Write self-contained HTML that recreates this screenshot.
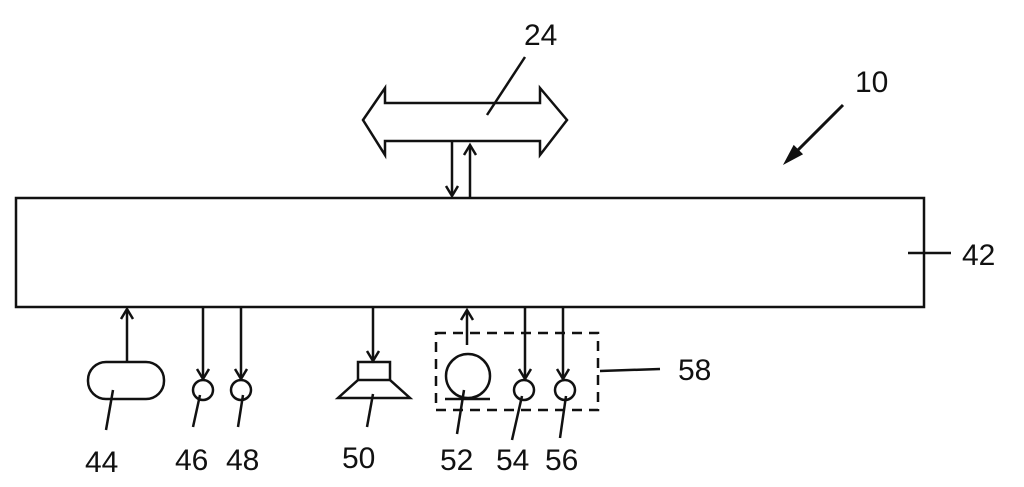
<!DOCTYPE html>
<html><head><style>
html,body{margin:0;padding:0;background:#fff;width:1024px;height:487px;overflow:hidden}
text{font-family:"Liberation Sans",sans-serif;font-size:30px;fill:#111}
</style></head><body>
<svg width="1024" height="487" viewBox="0 0 1024 487" xmlns="http://www.w3.org/2000/svg" fill="none" stroke="#111" stroke-width="2.5">
<rect x="16" y="198" width="908" height="109"/>
<path d="M363 120 L385 88 L385 103 L540 103 L540 88 L567 120 L540 155 L540 141 L385 141 L385 155 Z"/>
<line x1="525" y1="57" x2="487" y2="115"/>
<line x1="452" y1="141" x2="452" y2="196"/><path d="M446 186 L452 196 L458 186"/>
<line x1="470" y1="198" x2="470" y2="145"/><path d="M464 155 L470 145 L476 155"/>
<line x1="843" y1="105" x2="788" y2="160" stroke-width="3"/><path d="M786 162 L794 147 L801 154 Z" fill="#111"/>
<line x1="908" y1="253" x2="951" y2="253"/>
<rect x="88" y="362" width="76" height="37" rx="18"/>
<line x1="127" y1="362" x2="127" y2="309"/><path d="M121 319 L127 309 L133 319"/>
<line x1="113" y1="390" x2="106" y2="430"/>
<circle cx="203" cy="390" r="10"/><circle cx="241" cy="390" r="10"/>
<line x1="203" y1="307" x2="203" y2="379"/><path d="M197 369 L203 379 L209 369"/>
<line x1="241" y1="307" x2="241" y2="379"/><path d="M235 369 L241 379 L247 369"/>
<line x1="200" y1="395" x2="193" y2="427"/><line x1="243" y1="395" x2="238" y2="427"/>
<rect x="358" y="362" width="32" height="18"/>
<path d="M358 380 L338 398 L410 398 L390 380"/>
<line x1="373" y1="307" x2="373" y2="361"/><path d="M367 351 L373 361 L379 351"/>
<line x1="373" y1="394" x2="367" y2="427"/>
<rect x="436" y="333" width="162" height="77" stroke-dasharray="10,7"/>
<circle cx="468" cy="376" r="22"/><line x1="445" y1="399" x2="490" y2="399"/>
<line x1="467" y1="345" x2="467" y2="310"/><path d="M461 320 L467 310 L473 320"/>
<line x1="464" y1="390" x2="457" y2="434"/>
<circle cx="524" cy="390" r="10"/><circle cx="565" cy="390" r="10"/>
<line x1="525" y1="307" x2="525" y2="379"/><path d="M519 369 L525 379 L531 369"/>
<line x1="563" y1="307" x2="563" y2="379"/><path d="M557 369 L563 379 L569 369"/>
<line x1="522" y1="396" x2="512" y2="440"/><line x1="566" y1="396" x2="560" y2="438"/>
<line x1="600" y1="371" x2="660" y2="369"/>
<g stroke="none">
<text x="524" y="45">24</text>
<text x="855" y="92">10</text>
<text x="962" y="265">42</text>
<text x="678" y="380">58</text>
<text x="85" y="472">44</text>
<text x="175" y="470">46</text>
<text x="226" y="470">48</text>
<text x="342" y="468">50</text>
<text x="440" y="470">52</text>
<text x="496" y="470">54</text>
<text x="545" y="470">56</text>
</g>
</svg>
</body></html>
